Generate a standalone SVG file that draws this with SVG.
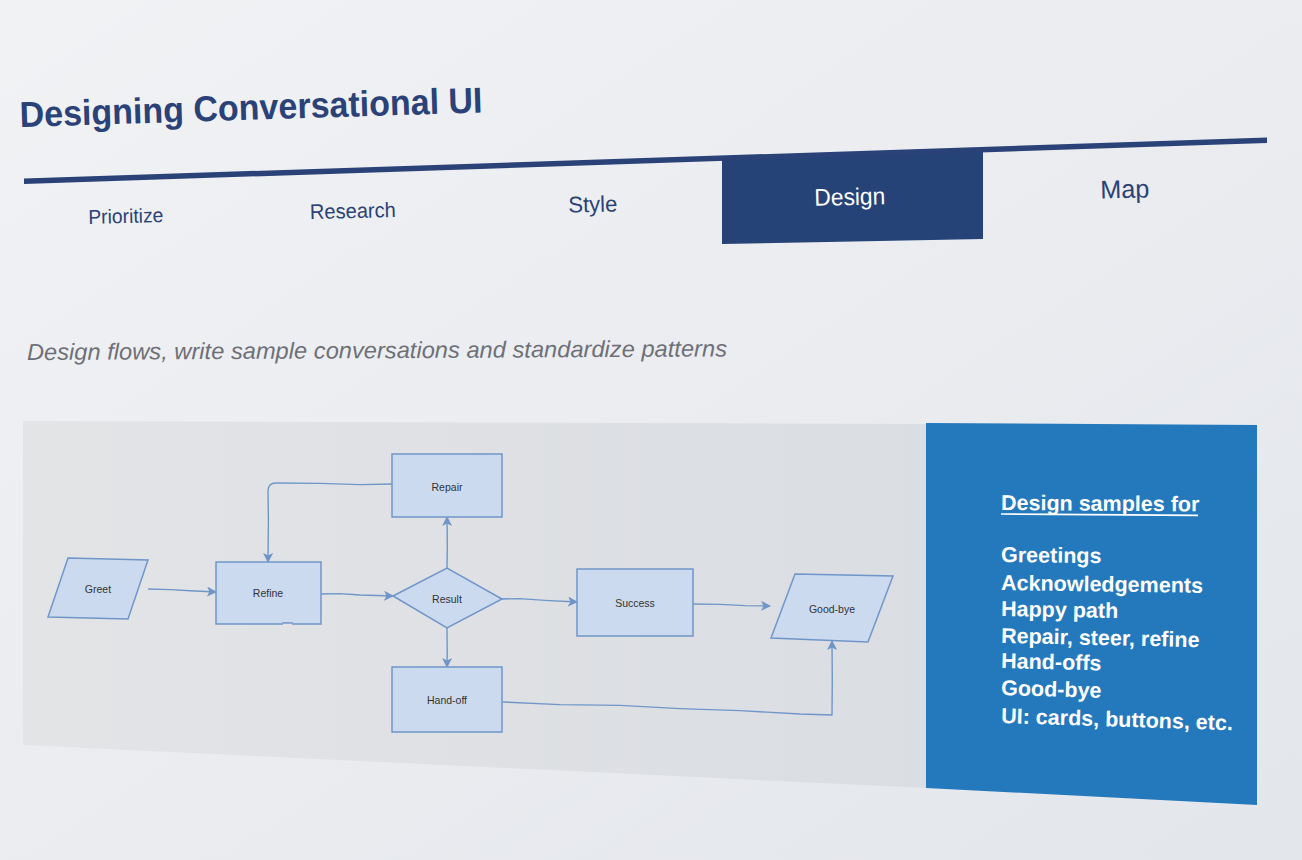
<svg xmlns="http://www.w3.org/2000/svg" width="1302" height="860" viewBox="0 0 1302 860">
  <defs>
    <linearGradient id="bg" x1="0" y1="0" x2="1" y2="1">
      <stop offset="0" stop-color="#f1f2f4"/>
      <stop offset="0.6" stop-color="#e9ebef"/>
      <stop offset="1" stop-color="#e3e6eb"/>
    </linearGradient>
    <linearGradient id="panel" x1="0" y1="0" x2="1" y2="0">
      <stop offset="0" stop-color="#e3e4e6"/>
      <stop offset="1" stop-color="#dadde2"/>
    </linearGradient>
    <filter id="rough" x="-5%" y="-5%" width="110%" height="110%">
      <feTurbulence type="fractalNoise" baseFrequency="0.03" numOctaves="2" seed="3" result="n"/>
      <feDisplacementMap in="SourceGraphic" in2="n" scale="1.5" xChannelSelector="R" yChannelSelector="G"/>
    </filter>
    <marker id="arr" viewBox="0 0 10 10" refX="9" refY="5" markerWidth="10" markerHeight="10" markerUnits="userSpaceOnUse" orient="auto">
      <path d="M0,0 L10,5 L0,10 L2.5,5 Z" fill="#6f94c8"/>
    </marker>
    <style>
      .title { font-family: "Liberation Sans", Arial, sans-serif; font-weight: bold; fill: #2a4277; }
      .tab { font-family: "Liberation Sans", Arial, sans-serif; fill: #2a4277; text-anchor: middle; }
      .sub { font-family: "Liberation Sans", Arial, sans-serif; font-style: italic; fill: #6e7078; }
      .node { fill: #cbdaee; stroke: #7096c9; stroke-width: 1.5; }
      .lbl { font-family: "Liberation Sans", Arial, sans-serif; font-size: 10.5px; fill: #333333; text-anchor: middle; }
      .edge { fill: none; stroke: #7096c9; stroke-width: 1.4; stroke-linejoin: round; marker-end: url(#arr); }
      .list { font-family: "Liberation Sans", Arial, sans-serif; font-weight: bold; font-size: 21.5px; fill: #ffffff; }
    </style>
  </defs>

  <rect x="0" y="0" width="1302" height="860" fill="url(#bg)"/>

  <g id="title">
    <text class="title" x="20" y="127" font-size="36" textLength="463" lengthAdjust="spacingAndGlyphs" transform="rotate(-1.8 20 127)">Designing Conversational UI</text>
  </g>

  <g id="tabs">
    <polygon points="722,158 983,150 983,239 722,244" fill="#264378"/>
    <polygon points="24,178.5 1267,137.5 1267,143 24,184" fill="#2a4277"/>
    <text class="tab" x="126" y="223" font-size="20" textLength="75" lengthAdjust="spacingAndGlyphs" transform="rotate(-1.4 126 223)">Prioritize</text>
    <text class="tab" x="353" y="218" font-size="21" textLength="86" lengthAdjust="spacingAndGlyphs" transform="rotate(-1.4 353 218)">Research</text>
    <text class="tab" x="593" y="212" font-size="22.5" textLength="49" lengthAdjust="spacingAndGlyphs" transform="rotate(-1.4 593 212)">Style</text>
    <text class="tab" x="850" y="205" font-size="24" textLength="71" lengthAdjust="spacingAndGlyphs" style="fill:#ffffff" transform="rotate(-1.4 850 205)">Design</text>
    <text class="tab" x="1125" y="198" font-size="25.5" textLength="49" lengthAdjust="spacingAndGlyphs" transform="rotate(-1.4 1125 198)">Map</text>
  </g>

  <g id="subtitle">
    <text class="sub" x="27" y="360" font-size="23" textLength="700" lengthAdjust="spacingAndGlyphs" transform="rotate(-0.3 27 360)">Design flows, write sample conversations and standardize patterns</text>
  </g>

  <g id="flow-panel">
    <polygon points="23,421 927,424 927,788 23,745" fill="url(#panel)"/>
  </g>

  <g id="connectors">
    <polyline class="edge" points="148,589 170,589.6 190,590.8 216,592"/>
    <polyline class="edge" points="321,594 340,593.6 360,595 393,596"/>
    <polyline class="edge" points="447,568 447.3,545 447,517"/>
    <polyline class="edge" points="447,628 447.2,650 447,667"/>
    <path class="edge" d="M392,484 L360,484.6 L320,483.4 L276,483 Q268,483 268,491 L268.4,520 L268,562"/>
    <polyline class="edge" points="502,599 520,598.6 545,600.4 577,602"/>
    <polyline class="edge" points="693,604 720,604.4 745,605.6 770,606"/>
    <polyline class="edge" points="503,702 560,704.6 620,705.4 680,708.6 740,710.6 800,714 832,715 832.3,680 832,641"/>
  </g>

  <g id="node-greet">
    <polygon class="node" filter="url(#rough)" points="68,558 148,560 128,619 48,617"/>
    <text class="lbl" x="98" y="593">Greet</text>
  </g>
  <g id="node-refine">
    <rect class="node" filter="url(#rough)" x="216" y="562" width="105" height="62"/>
    <text class="lbl" x="268" y="597">Refine</text>
  </g>
  <g id="node-repair">
    <rect class="node" filter="url(#rough)" x="392" y="454" width="110" height="63"/>
    <text class="lbl" x="447" y="491">Repair</text>
  </g>
  <g id="node-result">
    <polygon class="node" filter="url(#rough)" points="393,596 447,568 502,599 447,628"/>
    <text class="lbl" x="447" y="603">Result</text>
  </g>
  <g id="node-handoff">
    <rect class="node" filter="url(#rough)" x="392" y="667" width="110" height="65"/>
    <text class="lbl" x="447" y="704">Hand-off</text>
  </g>
  <g id="node-success">
    <rect class="node" filter="url(#rough)" x="577" y="569" width="116" height="67"/>
    <text class="lbl" x="635" y="607">Success</text>
  </g>
  <g id="node-goodbye">
    <polygon class="node" filter="url(#rough)" points="795,574 893,576 868,642 771,638"/>
    <text class="lbl" x="832" y="613">Good-bye</text>
  </g>

  <g id="samples-panel">
    <polygon points="926,423 1257,425 1257,805 926,788" fill="#2479bd"/>
    <text class="list" x="1001" y="510" transform="rotate(0.4 1001 510)">Design samples for</text>
    <line x1="1001" y1="514" x2="1198" y2="515.4" stroke="#ffffff" stroke-width="1.6"/>
    <text class="list" x="1001" y="562" transform="rotate(0.6 1001 562)">Greetings</text>
    <text class="list" x="1001" y="590" transform="rotate(0.8 1001 590)">Acknowledgements</text>
    <text class="list" x="1001" y="616" transform="rotate(1.0 1001 616)">Happy path</text>
    <text class="list" x="1001" y="643" transform="rotate(1.2 1001 643)">Repair, steer, refine</text>
    <text class="list" x="1001" y="668" transform="rotate(1.4 1001 668)">Hand-offs</text>
    <text class="list" x="1001" y="695" transform="rotate(1.6 1001 695)">Good-bye</text>
    <text class="list" x="1001" y="723" transform="rotate(1.8 1001 723)">UI: cards, buttons, etc.</text>
  </g>
</svg>
